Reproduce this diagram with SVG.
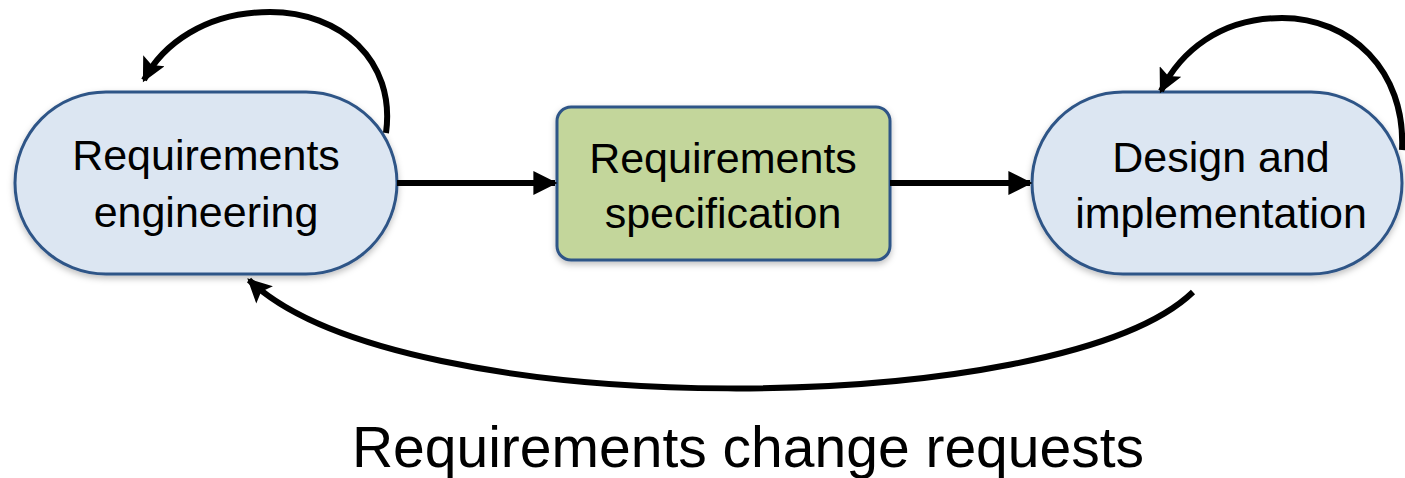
<svg xmlns="http://www.w3.org/2000/svg" width="1405" height="478" viewBox="0 0 1405 478">
<style>
  .node { fill: #dce6f2; stroke: #2f5587; stroke-width: 3; }
  .spec { fill: #c3d69b; stroke: #2f5587; stroke-width: 3; }
  .lbl { font-family: "Liberation Sans", Arial, sans-serif; font-size: 43px; fill: #000; text-anchor: middle; }
  .big { font-family: "Liberation Sans", Arial, sans-serif; font-size: 57px; fill: #000; text-anchor: middle; }
  .conn { fill: none; stroke: #000; stroke-width: 6; }
</style>
<defs>
  <marker id="ah" viewBox="0 0 10 10" refX="9" refY="5" markerWidth="28" markerHeight="24" markerUnits="userSpaceOnUse" orient="auto">
    <path d="M0,0 L10,5 L0,10 z" fill="#000"/>
  </marker>
  <marker id="ahc" viewBox="0 0 10 10" refX="9" refY="5" markerWidth="26" markerHeight="24" markerUnits="userSpaceOnUse" orient="auto">
    <path d="M0,0 L10,5 L0,10 L2,5 z" fill="#000"/>
  </marker>
  <filter id="sh" x="-10%" y="-10%" width="120%" height="130%">
    <feDropShadow dx="0" dy="3" stdDeviation="3" flood-color="#000" flood-opacity="0.25"/>
  </filter>
</defs>
<g id="req-eng">
  <rect class="node" x="15" y="92" width="382" height="182" rx="91" ry="91" filter="url(#sh)"/>
  <text class="lbl" x="206" y="170">Requirements</text>
  <text class="lbl" x="206" y="227">engineering</text>
</g>
<g id="req-spec">
  <rect class="spec" x="557" y="107" width="333" height="153" rx="14" ry="14" filter="url(#sh)"/>
  <text class="lbl" x="723" y="173">Requirements</text>
  <text class="lbl" x="723" y="228">specification</text>
</g>
<g id="design-impl">
  <rect class="node" x="1032" y="92" width="370" height="182" rx="91" ry="91" filter="url(#sh)"/>
  <text class="lbl" x="1221" y="172">Design and</text>
  <text class="lbl" x="1221" y="228">implementation</text>
</g>
<g id="connectors">
  <path class="conn" d="M397,183 L555,183" marker-end="url(#ah)"/>
  <path class="conn" d="M890,183 L1030,183" marker-end="url(#ah)"/>
  <path class="conn" d="M386,133 C396,60 340,12 270,12 C205,12 162,45 144,80" marker-end="url(#ahc)"/>
  <path class="conn" d="M1402,150 C1406,70 1350,18 1282,18 C1220,18 1180,52 1161,91" marker-end="url(#ahc)"/>
  <path class="conn" d="M1193,292 C1060,420 400,425 249,280" marker-end="url(#ahc)"/>
</g>
<text class="big" x="748" y="467">Requirements change requests</text>
</svg>
